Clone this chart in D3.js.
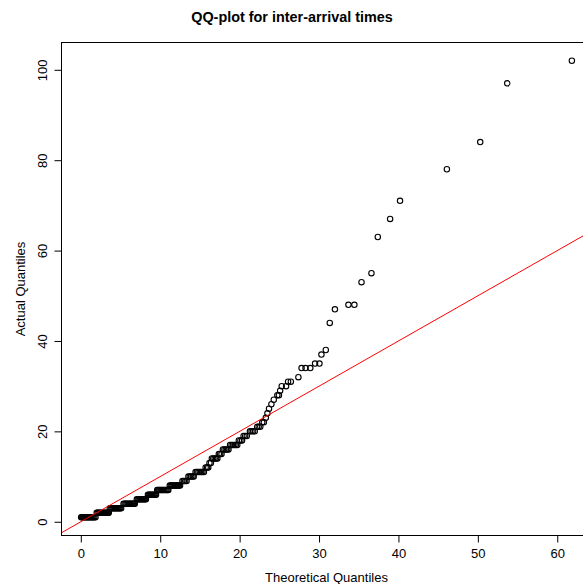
<!DOCTYPE html>
<html><head><meta charset="utf-8">
<script src="https://cdn.jsdelivr.net/npm/d3@7"></script>
<style>body{margin:0;background:#fff;overflow:hidden}svg{display:block}text{font-family:"Liberation Sans",Arial,Helvetica,sans-serif;fill:#000}</style>
</head><body><svg id="c" width="583" height="584"></svg>
<script>
// Sorted observed inter-arrival times (integer levels)
const actualLevels = [1,2,3,4,5,6,7,8,9,10,11,12,13,14,15,16,17,18,19,20,21,22,23,24,25,26,27,28,29,30,31,32,34,35,37,38,44,47,48,53,55,63,67,71,78,84,97,102];
// Theoretical quantiles read for each level (same order as actualLevels)
const theoreticalByLevel = [
  [0.04,0.16,0.28,0.40,0.52,0.65,0.78,0.91,1.04,1.17,1.30,1.43,1.56,1.70,1.85],
  [2.00,2.13,2.26,2.39,2.52,2.65,2.78,2.91,3.04,3.17,3.30,3.42,3.52],
  [3.65,3.78,3.91,4.04,4.17,4.30,4.43,4.56,4.69,4.82,4.95,5.08],
  [5.38,5.51,5.64,5.77,5.90,6.03,6.16,6.29,6.42,6.55,6.68,6.80],
  [7.05,7.18,7.31,7.44,7.57,7.70,7.83,7.96,8.09,8.20],
  [8.45,8.58,8.71,8.84,8.97,9.10,9.23,9.36,9.47],
  [9.62,9.75,9.88,10.01,10.14,10.27,10.40,10.53,10.66,10.79,10.92,11.02],
  [11.20,11.33,11.46,11.59,11.72,11.85,11.98,12.11,12.24,12.37,12.50],
  [12.80,12.98,13.15,13.32],
  [13.55,13.72,13.90,14.08,14.22],
  [14.45,14.62,14.80,14.98,15.15,15.32,15.50],
  [15.72,15.90,16.05],
  [16.20,16.38],
  [16.50,16.68,16.86,17.04,17.20],
  [17.38,17.55,17.72],
  [17.90,18.08,18.26,18.44,18.60],
  [18.80,18.98,19.16,19.34,19.52,19.70],
  [19.90,20.10,20.30],
  [20.50,20.70,20.90],
  [21.30,21.50,21.70,21.90],
  [22.20,22.40,22.60],
  [22.85,23.05],
  [23.30],
  [23.50],
  [23.70],
  [24.00],
  [24.30],
  [24.75,24.95],
  [25.10],
  [25.30,25.85],
  [26.10,26.45],
  [27.40],
  [27.80,28.30,28.90],
  [29.50,30.05],
  [30.30],
  [30.85],
  [31.35],
  [32.00],
  [33.70,34.45],
  [35.35],
  [36.60],
  [37.40],
  [38.95],
  [40.20],
  [46.10],
  [50.30],
  [53.70],
  [61.84]
];
const xTicks = [0,10,20,30,40,50,60];
const yTicks = [0,20,40,60,80,100];
const refIntercept = 0, refSlope = 1;
const titleText = "QQ-plot for inter-arrival times";
const xLabel = "Theoretical Quantiles";
const yLabel = "Actual Quantiles";

const points = [];
actualLevels.forEach((v,i)=>theoreticalByLevel[i].forEach(t=>points.push({t, v})));

const plot = {left:61.5, right:591.5, top:42.5, bottom:535.5};
function padExtent(ext){ const d=(ext[1]-ext[0])*0.04; return [ext[0]-d, ext[1]+d]; }
const x = d3.scaleLinear().domain(padExtent(d3.extent(points,d=>d.t))).range([plot.left, plot.right]);
const y = d3.scaleLinear().domain(padExtent(d3.extent(points,d=>d.v))).range([plot.bottom, plot.top]);

const svg = d3.select("#c");
svg.append("defs").append("clipPath").attr("id","clip").append("rect")
  .attr("x",plot.left).attr("y",plot.top).attr("width",plot.right-plot.left).attr("height",plot.bottom-plot.top);

// points
svg.append("g").selectAll("circle").data(points).join("circle")
  .attr("cx",d=>x(d.t)).attr("cy",d=>y(d.v)).attr("r",2.7)
  .attr("fill","none").attr("stroke","#000").attr("stroke-width",1.1);

// reference line
const xd = x.domain();
svg.append("line").attr("clip-path","url(#clip)")
  .attr("x1",x(xd[0])).attr("y1",y(refIntercept+refSlope*xd[0]))
  .attr("x2",x(xd[1])).attr("y2",y(refIntercept+refSlope*xd[1]))
  .attr("stroke","#ff0000").attr("stroke-width",1);

// box
svg.append("rect").attr("x",plot.left).attr("y",plot.top)
  .attr("width",plot.right-plot.left).attr("height",plot.bottom-plot.top)
  .attr("fill","none").attr("stroke","#000").attr("stroke-width",1);

// x axis
const gx = svg.append("g").attr("transform",`translate(0,${plot.bottom})`)
  .call(d3.axisBottom(x).tickValues(xTicks).tickSize(7).tickFormat(d3.format("d")));
gx.select(".domain").remove();
gx.append("line").attr("x1",x(xTicks[0])).attr("x2",x(xTicks[xTicks.length-1])).attr("stroke","#000");
gx.selectAll(".tick line").attr("stroke","#000");
gx.selectAll(".tick text").attr("y",22.8).attr("dy",0).attr("font-size",13).attr("fill","#000");

// y axis
const gy = svg.append("g").attr("transform",`translate(${plot.left},0)`)
  .call(d3.axisLeft(y).tickValues(yTicks).tickSize(7).tickFormat(d3.format("d")));
gy.select(".domain").remove();
gy.append("line").attr("y1",y(yTicks[0])).attr("y2",y(yTicks[yTicks.length-1])).attr("stroke","#000");
gy.selectAll(".tick line").attr("stroke","#000");
gy.selectAll(".tick text").attr("transform","rotate(-90)").attr("x",0).attr("y",-14.8).attr("dy",0)
  .attr("text-anchor","middle").attr("font-size",13).attr("fill","#000");

// labels
svg.append("text").attr("x",292).attr("y",22).attr("text-anchor","middle")
  .attr("font-size",14.4).attr("font-weight","bold").text(titleText);
svg.append("text").attr("x",(plot.left+plot.right)/2).attr("y",581.5).attr("text-anchor","middle")
  .attr("font-size",13).text(xLabel);
svg.append("text").attr("transform",`translate(25,${(plot.top+plot.bottom)/2}) rotate(-90)`)
  .attr("text-anchor","middle").attr("font-size",13).text(yLabel);
</script></body></html>
